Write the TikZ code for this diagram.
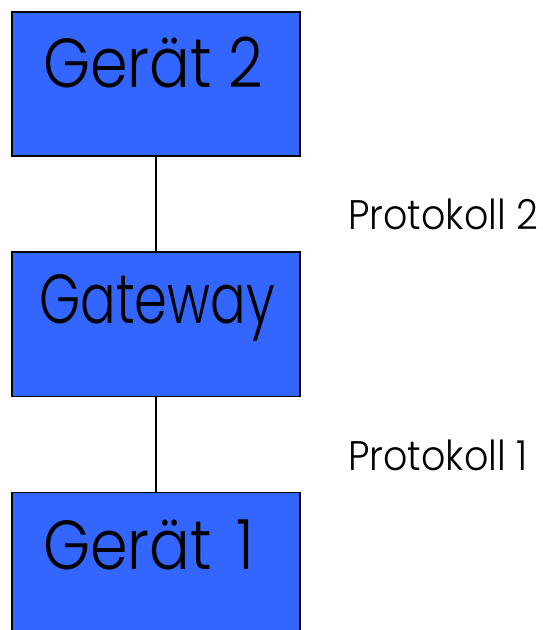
\documentclass[tikz,border=0pt]{standalone}
\usepackage{fontspec}
\setmainfont{Poppins}[UprightFont={* Light}]
\newfontfamily\narrowA{Poppins}[UprightFont={* Light},FakeStretch=0.87]
\newfontfamily\narrowB{Poppins}[UprightFont={* Light},FakeStretch=0.76]
\newfontfamily\narrowC{Poppins}[UprightFont={* Light},FakeStretch=0.92]
\definecolor{boxblue}{HTML}{3366FF}
\begin{document}
\begin{tikzpicture}[x=0.75pt,y=-0.75pt,
  device/.style={draw=black, line width=1pt, fill=boxblue, minimum width=216pt, minimum height=108pt, inner sep=0pt, anchor=north},
  boxtext/.style={anchor=base west, inner sep=0pt},
  proto/.style={anchor=base west, inner sep=0pt, font=\narrowC\fontsize{31}{36}\selectfont},
  link/.style={draw=black, line width=1pt}]
  \useasboundingbox (0,0) rectangle (542,630);
  % the three stacked boxes
  \node[device] (dev2) at (156,11.5) {};
  \node[device] (gw)   at (156,251.5) {};
  \node[device] (dev1) at (156,491.5) {};
  % connections between them
  \draw[link] (dev2.south) -- (gw.north);
  \draw[link] (gw.south) -- (dev1.north);
  % box captions
  \node[boxtext, font=\narrowA\fontsize{52}{60}\selectfont] (t2) at (43,88) {Gerät 2};
  \node[boxtext, font=\narrowB\fontsize{52}{60}\selectfont] (tg) at (39,323) {Gateway};
  \node[boxtext, font=\narrowA\fontsize{52}{60}\selectfont] (t1) at (43,569) {Gerät\hspace{6pt} 1};
  % protocol labels
  \node[proto] (p2) at (348,230) {Protokoll 2};
  \node[proto] (p1) at (348,470) {Protokoll 1};
\end{tikzpicture}
\end{document}
